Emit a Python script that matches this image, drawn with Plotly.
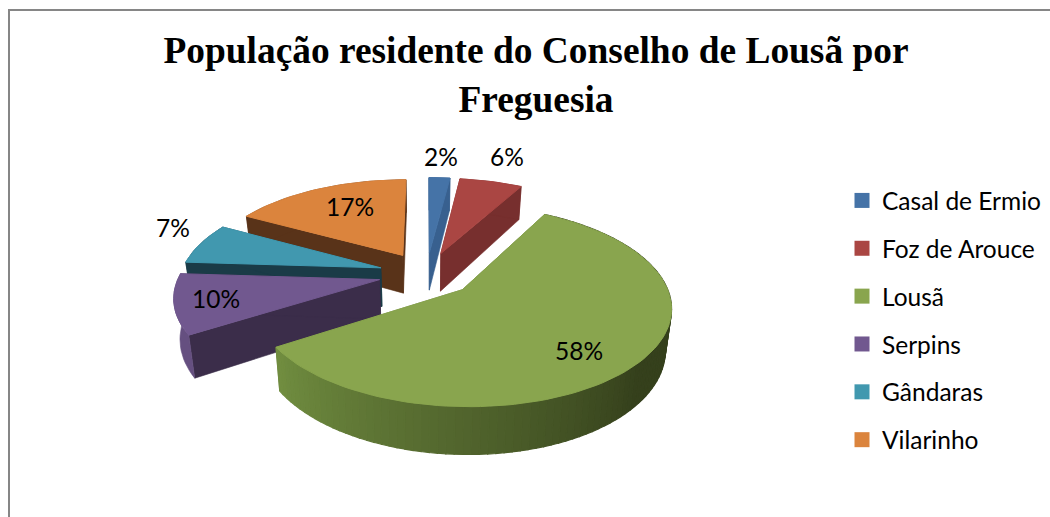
import numpy as np
import plotly.graph_objects as go

names = ["Casal de Ermio", "Foz de Arouce", "Lousã", "Serpins", "Gândaras", "Vilarinho"]
values = [2, 6, 58, 10, 7, 17]

top_colors = ["#4573a7", "#aa4643", "#89a54e", "#71588f", "#4198af", "#db843d"]
cut_colors = ["#38608f", "#772f2e", "#5f7536", "#3b2d4a", "#1a3b47", "#593319"]
wall_colors = ["#38608f", "#772f2e", None, "#654f80", "#1a3b47", "#593319"]
draw_order = [5, 0, 1, 4, 3, 2]

label_pos = [(441, 156), (507, 156), (579, 350), (216, 298), (173, 227), (350, 206)]

CX, CY, A, B, P, EXPLODE, DEPTH, SHRINK = 426.5, 274.0, 200.0, 93.0, 0.158, 0.24, 39.0, 0.975


def project(u, v):
    w = 1 + P * v
    x = CX + A * u / w
    return x, CY - B * v / w, DEPTH / w, CX + (x - CX) * SHRINK


fig = go.Figure()


def poly(xs, ys, color, width=0.6):
    fig.add_trace(go.Scatter(x=list(xs), y=list(ys), mode="lines", fill="toself",
                             fillcolor=color, line=dict(color=color, width=width),
                             showlegend=False, hoverinfo="skip"))


for n, c in zip(names, top_colors):
    fig.add_trace(go.Scatter(x=[None], y=[None], mode="markers", name=n, legendgroup=n,
                             marker=dict(symbol="square", size=15, color=c), hoverinfo="skip"))

total = sum(values)
bounds = np.cumsum([0] + values) / total * 2 * np.pi

for i in draw_order:
    t0, t1 = bounds[i], bounds[i + 1]
    mid = (t0 + t1) / 2
    eu, ev = EXPLODE * np.sin(mid), EXPLODE * np.cos(mid)
    th = np.linspace(t0, t1, max(6, int(np.degrees(t1 - t0) / 2) + 1))
    ax, ay, ad, abx = project(eu, ev)
    ox, oy, od, obx = project(eu + np.sin(th), ev + np.cos(th))

    for k in (0, -1):
        poly([ax, ox[k], obx[k], abx, ax], [ay, oy[k], oy[k] + od[k], ay + ad, ay], cut_colors[i])

    if wall_colors[i]:
        poly(np.r_[ox, obx[::-1], ox[0]], np.r_[oy, (oy + od)[::-1], oy[0]], wall_colors[i])
    else:
        light = np.array([0x72, 0x8f, 0x41])
        dark = np.array([0x35, 0x40, 0x1c])
        for j in range(len(th) - 1):
            deg = np.degrees(th[j])
            s = np.clip((deg - 130) / (237 - 130), 0, 1)
            c = dark + (light - dark) * s
            col = "rgb(%d,%d,%d)" % tuple(c)
            poly([ox[j], ox[j + 1], obx[j + 1], obx[j], ox[j]],
                 [oy[j], oy[j + 1], oy[j + 1] + od[j + 1], oy[j] + od[j], oy[j]], col, 1.2)

    poly(np.r_[ax, ox, ax], np.r_[ay, oy, ay], top_colors[i], 1.0)

for v, (lx, ly) in zip(values, label_pos):
    fig.add_annotation(x=lx, y=ly, text=f"{v}%", showarrow=False,
                       font=dict(family="Lato", size=24.5, color="#000000"))

fig.add_shape(type="rect", x0=9, y0=10, x1=1070, y1=540,
              line=dict(color="#868686", width=2), fillcolor="rgba(0,0,0,0)")

fig.update_layout(
    width=1050, height=517, margin=dict(l=0, r=0, t=0, b=0),
    paper_bgcolor="white", plot_bgcolor="white",
    title=dict(text="<b>População residente do Conselho de Lousã por<br>Freguesia</b>",
               x=536 / 1050, xanchor="center", y=1 - 63 / 517, yanchor="middle",
               font=dict(family="Liberation Serif", size=37.4, color="#000000")),
    xaxis=dict(range=[0, 1050], visible=False, fixedrange=True),
    yaxis=dict(range=[517, 0], visible=False, fixedrange=True),
    legend=dict(x=(846 - 21 + 17) / 1050, y=1 - 178 / 517, xanchor="left", yanchor="top",
                bgcolor="rgba(0,0,0,0)", font=dict(family="Lato", size=24.5, color="#000000"),
                tracegroupgap=13),
)

fig.write_html("out.html", config={"displayModeBar": False},
               post_script="document.body.style.margin='0';document.body.style.overflow='hidden';")
